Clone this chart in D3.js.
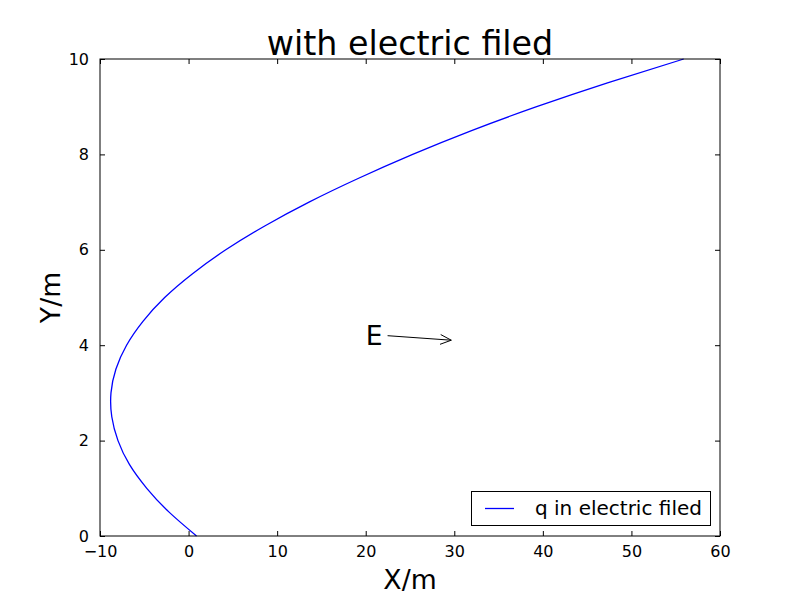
<!DOCTYPE html>
<html>
<head>
<meta charset="utf-8">
<script src="https://cdn.jsdelivr.net/npm/d3@7"></script>
<style>
  body { margin: 0; background: #fff; }
  svg { display: block; font-family: "DejaVu Sans", sans-serif; }
</style>
</head>
<body>
<div id="chart"></div>
<script>
// trajectory (x in m, y in m)
const pathX = [0.9, -2.2, -4.72, -6.68, -7.97, -8.67, -8.76, -8.2, -7.0, -5.15, -2.7, 0.45, 4.2, 8.6, 13.6, 19.2, 25.3, 31.95, 39.3, 47.3, 55.9];
const pathY = [0, 0.5, 1, 1.5, 2, 2.5, 3, 3.5, 4, 4.5, 5, 5.5, 6, 6.5, 7, 7.5, 8, 8.5, 9, 9.5, 10];
const xTicks = [-10, 0, 10, 20, 30, 40, 50, 60];
const yTicks = [0, 2, 4, 6, 8, 10];
const seriesName = "q in electric filed";
const annoText = "E";
const annoTextAt = [20, 4];
const annoTip = [30, 4.1];

const W = 800, H = 596;
const m = { left: 100, right: 80, top: 59, bottom: 60 };
const pw = W - m.left - m.right, ph = H - m.top - m.bottom;

const svg = d3.select("#chart").append("svg").attr("width", W).attr("height", H);

const x = d3.scaleLinear().domain([-10, 60]).range([m.left, m.left + pw]);
const y = d3.scaleLinear().domain([0, 10]).range([m.top + ph, m.top]);

const tick = 5;
const fmt = (d) => (d < 0 ? "\u2212" + Math.abs(d) : String(d));

// axes with inward ticks on all four sides
svg.append("g").attr("transform", `translate(0,${m.top + ph})`)
  .call(d3.axisBottom(x).tickValues(xTicks).tickSizeInner(-tick).tickSizeOuter(0).tickPadding(10).tickFormat(fmt))
  .call((g) => g.select(".domain").remove());
svg.append("g").attr("transform", `translate(0,${m.top})`)
  .call(d3.axisTop(x).tickValues(xTicks).tickSizeInner(-tick).tickSizeOuter(0).tickFormat(""))
  .call((g) => g.select(".domain").remove());
svg.append("g").attr("transform", `translate(${m.left},0)`)
  .call(d3.axisLeft(y).tickValues(yTicks).tickSizeInner(-tick).tickSizeOuter(0).tickPadding(11).tickFormat(fmt))
  .call((g) => g.select(".domain").remove());
svg.append("g").attr("transform", `translate(${m.left + pw},0)`)
  .call(d3.axisRight(y).tickValues(yTicks).tickSizeInner(-tick).tickSizeOuter(0).tickFormat(""))
  .call((g) => g.select(".domain").remove());

svg.selectAll(".tick text").attr("font-size", 16).attr("fill", "#000").attr("font-family", "DejaVu Sans");
svg.selectAll(".tick line").attr("stroke", "#000");

// curve
const pts = pathX.map((v, i) => [v, pathY[i]]);
svg.append("path")
  .datum(pts)
  .attr("fill", "none")
  .attr("stroke", "#0000ff")
  .attr("stroke-width", 1.3)
  .attr("d", d3.line().x((d) => x(d[0])).y((d) => y(d[1])).curve(d3.curveNatural));

// frame
svg.append("rect")
  .attr("x", m.left).attr("y", m.top).attr("width", pw).attr("height", ph)
  .attr("fill", "none").attr("stroke", "#000").attr("stroke-width", 1);

// annotation (arrow shrunk a little at the tip, like matplotlib)
const et = svg.append("text")
  .attr("x", x(annoTextAt[0])).attr("y", y(annoTextAt[1]))
  .attr("font-size", 26.7).attr("fill", "#000")
  .text(annoText);
const bb = et.node().getBBox();
const sx = bb.x + bb.width + 5, sy = bb.y + bb.height / 2;
const ang = Math.atan2(y(annoTip[1]) - sy, x(annoTip[0]) - sx);
const tx = x(annoTip[0]) - 3 * Math.cos(ang), ty = y(annoTip[1]) - 3 * Math.sin(ang);
svg.append("line").attr("x1", sx).attr("y1", sy).attr("x2", tx).attr("y2", ty)
  .attr("stroke", "#000").attr("stroke-width", 1);
const hl = 12, hw = 0.42;
svg.append("path")
  .attr("d", `M${tx - hl * Math.cos(ang - hw)},${ty - hl * Math.sin(ang - hw)}L${tx},${ty}L${tx - hl * Math.cos(ang + hw)},${ty - hl * Math.sin(ang + hw)}`)
  .attr("fill", "none").attr("stroke", "#000").attr("stroke-width", 1);

// title and axis labels
svg.append("text").attr("x", m.left + pw / 2).attr("y", 55)
  .attr("text-anchor", "middle").attr("font-size", 33.3).text("with electric filed");
svg.append("text").attr("x", m.left + pw / 2).attr("y", 589)
  .attr("text-anchor", "middle").attr("font-size", 26.7).text("X/m");
svg.append("text").attr("transform", `translate(60,${m.top + ph / 2}) rotate(-90)`)
  .attr("text-anchor", "middle").attr("font-size", 26.7).text("Y/m");

// legend
const lg = svg.append("g");
lg.append("rect").attr("x", 471.5).attr("y", 491.5).attr("width", 239).attr("height", 34)
  .attr("fill", "#fff").attr("stroke", "#000").attr("stroke-width", 1);
lg.append("line").attr("x1", 485).attr("x2", 514).attr("y1", 508.5).attr("y2", 508.5)
  .attr("stroke", "#0000ff").attr("stroke-width", 1.3);
lg.append("text").attr("x", 535).attr("y", 515).attr("font-size", 20).text(seriesName);
</script>
</body>
</html>
